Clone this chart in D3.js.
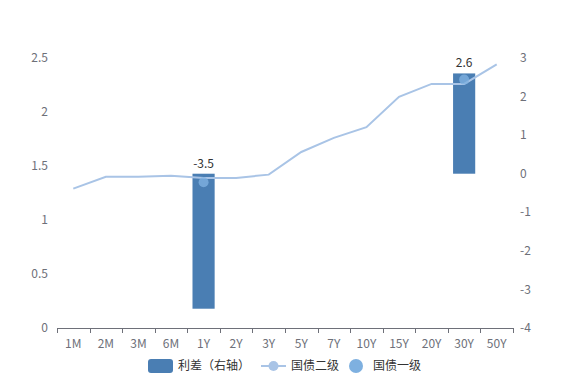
<!DOCTYPE html>
<html><head><meta charset="utf-8">
<script src="https://cdn.jsdelivr.net/npm/d3@7"></script>
<style>body{margin:0;background:#fff}svg{display:block}text{font-family:"Noto Sans CJK SC","Microsoft YaHei",sans-serif}</style>
</head><body>
<svg id="c" width="569" height="380"></svg>
<script>
const categories = ["1M","2M","3M","6M","1Y","2Y","3Y","5Y","7Y","10Y","15Y","20Y","30Y","50Y"];
const level2 = [1.29,1.40,1.40,1.41,1.39,1.39,1.42,1.63,1.76,1.86,2.14,2.26,2.26,2.44];
const level1 = [null,null,null,null,1.35,null,null,null,null,null,null,null,2.30,null];
const spread = [null,null,null,null,-3.5,null,null,null,null,null,null,null,2.6,null];
const leftTicks = [0,0.5,1,1.5,2,2.5];
const rightTicks = [-4,-3,-2,-1,0,1,2,3];

const svg = d3.select("#c");
const L=57,R=513,T=58,B=328;
const x = d3.scaleBand().domain(categories).range([L,R]);
const yL = d3.scaleLinear().domain([0,2.5]).range([B,T]);
const yR = d3.scaleLinear().domain([-4,3]).range([B,T]);
const axCol="#6e7079";

// left axis labels
svg.append("g").selectAll("text").data(leftTicks).join("text")
  .attr("x",48).attr("y",d=>yL(d)).attr("dy","0.35em").attr("text-anchor","end")
  .attr("font-size",12).attr("fill",axCol).text(d=>d);
// right axis labels
svg.append("g").selectAll("text").data(rightTicks).join("text")
  .attr("x",520).attr("y",d=>yR(d)).attr("dy","0.35em").attr("text-anchor","start")
  .attr("font-size",12).attr("fill",axCol).text(d=>d);

// x axis
const gx = svg.append("g");
gx.append("line").attr("x1",L).attr("x2",R).attr("y1",B+0.5).attr("y2",B+0.5).attr("stroke",axCol);
const bounds = d3.range(categories.length+1).map(i=>L+i*x.step());
gx.selectAll("line.t").data(bounds).join("line").attr("class","t")
  .attr("x1",d=>Math.round(d)+0.5).attr("x2",d=>Math.round(d)+0.5).attr("y1",B).attr("y2",B+5).attr("stroke",axCol);
gx.selectAll("text").data(categories).join("text")
  .attr("x",d=>x(d)+x.bandwidth()/2).attr("y",B+16).attr("dy","0.35em").attr("text-anchor","middle")
  .attr("font-size",12).attr("fill",axCol).text(d=>d);

// bars
const bw = x.bandwidth()*0.68;
const bd = categories.map((c,i)=>({c,v:spread[i]})).filter(d=>d.v!=null);
svg.append("g").selectAll("rect").data(bd).join("rect")
  .attr("x",d=>x(d.c)+(x.bandwidth()-bw)/2).attr("width",bw)
  .attr("y",d=>Math.min(yR(d.v),yR(0))).attr("height",d=>Math.abs(yR(d.v)-yR(0)))
  .attr("fill","#4a7eb3");

// line
const ld = categories.map((c,i)=>({c,v:level2[i]}));
svg.append("path").datum(ld)
  .attr("d",d3.line().x(d=>x(d.c)+x.bandwidth()/2).y(d=>yL(d.v)))
  .attr("fill","none").attr("stroke","#a9c4e6").attr("stroke-width",2);

// scatter
const sd = categories.map((c,i)=>({c,v:level1[i]})).filter(d=>d.v!=null);
svg.append("g").selectAll("circle").data(sd).join("circle")
  .attr("cx",d=>x(d.c)+x.bandwidth()/2).attr("cy",d=>yL(d.v)).attr("r",5)
  .attr("fill","#7eb0e0").attr("opacity",0.8);

// bar labels
svg.append("g").selectAll("text").data(bd).join("text")
  .attr("x",d=>x(d.c)+x.bandwidth()/2).attr("y",d=>Math.min(yR(d.v),yR(0))-6)
  .attr("text-anchor","middle").attr("font-size",12).attr("fill","#333").text(d=>d.v);

// legend
const lg = svg.append("g");
lg.append("rect").attr("x",148).attr("y",359).attr("width",25).attr("height",14).attr("rx",3).attr("fill","#4a7eb3");
lg.append("text").attr("x",178).attr("y",366).attr("dy","0.35em").attr("font-size",12).attr("fill","#333").text("利差（右轴）");
lg.append("line").attr("x1",261).attr("x2",286).attr("y1",366).attr("y2",366).attr("stroke","#a9c4e6").attr("stroke-width",2);
lg.append("circle").attr("cx",273.5).attr("cy",366).attr("r",5).attr("fill","#a9c4e6");
lg.append("text").attr("x",291).attr("y",366).attr("dy","0.35em").attr("font-size",12).attr("fill","#333").text("国债二级");
lg.append("circle").attr("cx",356).attr("cy",366).attr("r",7).attr("fill","#7eb0e0");
lg.append("text").attr("x",373).attr("y",366).attr("dy","0.35em").attr("font-size",12).attr("fill","#333").text("国债一级");
</script>
</body></html>
